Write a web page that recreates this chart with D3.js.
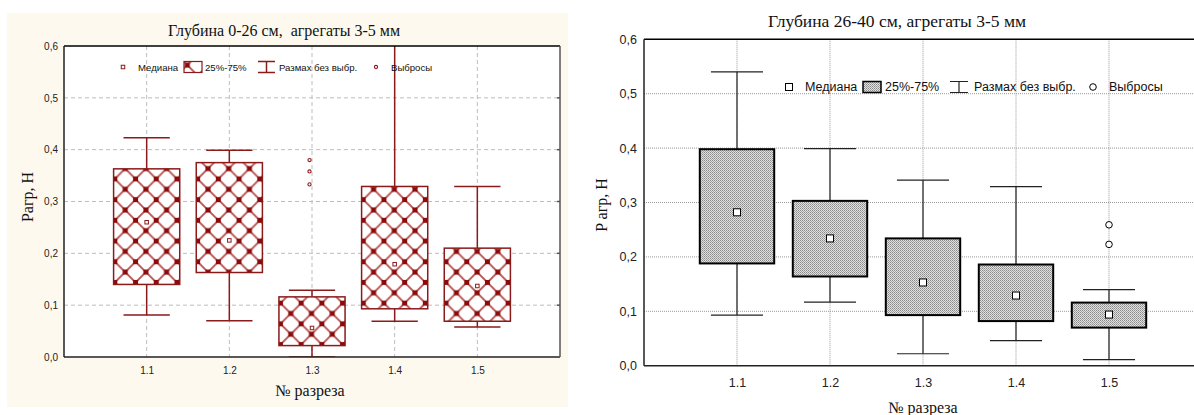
<!DOCTYPE html>
<html>
<head>
<meta charset="utf-8">
<script src="https://cdn.jsdelivr.net/npm/d3@7"></script>
<style>
  html, body { margin: 0; padding: 0; background: #ffffff; }
  svg { display: block; }
</style>
</head>
<body>
<svg id="chart" width="1194" height="415"></svg>
<script>
// Section numbers (x categories) and their positions on the numeric axis
const cuts = ["1.1", "1.2", "1.3", "1.4", "1.5"];
const cutPos = [1.1, 1.2, 1.3, 1.4, 1.5];
const yTicks = [0, 0.1, 0.2, 0.3, 0.4, 0.5, 0.6];

// Depth 0-26 cm, aggregates 3-5 mm
const topMedian = [0.260, 0.225, 0.056, 0.179, 0.137];
const topQ1 = [0.140, 0.163, 0.022, 0.093, 0.069];
const topQ3 = [0.363, 0.375, 0.116, 0.329, 0.210];
const topMin = [0.081, 0.070, 0.000, 0.069, 0.058];
const topMax = [0.423, 0.399, 0.129, 0.620, 0.329];
const topOutliers = [[], [], [0.380, 0.358, 0.333], [], []];

// Depth 26-40 cm, aggregates 3-5 mm
const subMedian = [0.282, 0.234, 0.153, 0.129, 0.094];
const subQ1 = [0.188, 0.164, 0.093, 0.082, 0.070];
const subQ3 = [0.398, 0.303, 0.234, 0.186, 0.116];
const subMin = [0.093, 0.117, 0.022, 0.046, 0.011];
const subMax = [0.540, 0.399, 0.341, 0.329, 0.140];
const subOutliers = [[], [], [], [], [0.259, 0.223]];

const legendLabels = ["Медиана", "25%-75%", "Размах без выбр.", "Выбросы"];

const svg = d3.select("#chart");
const defs = svg.append("defs");

// Red diamond lattice fill
const P = 20.7;
const lat = defs.append("pattern")
  .attr("id", "lattice").attr("patternUnits", "userSpaceOnUse")
  .attr("width", P).attr("height", P).attr("x", 1).attr("y", 3);
lat.append("rect").attr("width", P).attr("height", P).attr("fill", "#ffffff");
lat.append("path").attr("d", `M0,0L${P},${P}M${P},0L0,${P}`)
  .attr("stroke", "#b65252").attr("stroke-width", 1.9).attr("fill", "none");
[[0, 0], [P, 0], [0, P], [P, P], [P / 2, P / 2]].forEach(([cx, cy]) => {
  lat.append("rect").attr("x", cx - 2.5).attr("y", cy - 2.5).attr("width", 5).attr("height", 5)
    .attr("fill", "#8b0a0a");
});

// Fine grey stipple fill
const dot = defs.append("pattern")
  .attr("id", "stipple").attr("patternUnits", "userSpaceOnUse")
  .attr("width", 2).attr("height", 2);
dot.append("rect").attr("width", 2).attr("height", 2).attr("fill", "#e0e0e0");
dot.append("rect").attr("width", 1).attr("height", 1).attr("fill", "#8a8a8a");
dot.append("rect").attr("x", 1).attr("y", 1).attr("width", 1).attr("height", 1).attr("fill", "#a4a4a4");

const fmt = v => d3.format(".1f")(v).replace(".", ",");

function drawPanel(o) {
  const g = svg.append("g");
  const x = d3.scaleLinear().domain([1.0, 1.6]).range([o.left, o.right]);
  const y = d3.scaleLinear().domain([0, 0.6]).range([o.bottom, o.top]);
  const bw = (x(1.2) - x(1.1)) * 0.8;
  const cw = (x(1.2) - x(1.1)) * o.capFrac;

  if (o.bg) {
    g.append("rect").attr("x", o.bg[0]).attr("y", o.bg[1]).attr("width", o.bg[2]).attr("height", o.bg[3])
      .attr("fill", o.bgColor);
  }
  g.append("rect").attr("x", o.left).attr("y", o.top)
    .attr("width", Math.min(o.right, 1194) - o.left).attr("height", o.bottom - o.top).attr("fill", "#ffffff");

  const clipId = "clip-" + o.id;
  defs.append("clipPath").attr("id", clipId).append("rect")
    .attr("x", o.left).attr("y", o.top).attr("width", o.right - o.left).attr("height", o.bottom - o.top);

  // grid
  const grid = g.append("g");
  grid.selectAll("line.h").data(yTicks.slice(1, -1)).join("line")
    .attr("x1", o.left).attr("x2", o.right).attr("y1", d => y(d)).attr("y2", d => y(d))
    .attr("stroke", o.gridColor).attr("stroke-width", 1).attr("stroke-dasharray", o.gridDash);
  grid.selectAll("line.v").data(cutPos).join("line")
    .attr("x1", d => x(d)).attr("x2", d => x(d)).attr("y1", o.top).attr("y2", o.bottom)
    .attr("stroke", o.gridColor).attr("stroke-width", 1).attr("stroke-dasharray", o.gridDash);

  // boxes
  const marks = g.append("g").attr("clip-path", `url(#${clipId})`);
  cuts.forEach((c, i) => {
    const cx = x(cutPos[i]);
    // whiskers
    marks.append("line").attr("x1", cx).attr("x2", cx).attr("y1", y(o.max[i])).attr("y2", y(o.q3[i]))
      .attr("stroke", o.whiskerColor).attr("stroke-width", o.whiskerWidth);
    marks.append("line").attr("x1", cx).attr("x2", cx).attr("y1", y(o.q1[i])).attr("y2", y(o.min[i]))
      .attr("stroke", o.whiskerColor).attr("stroke-width", o.whiskerWidth);
    [o.max[i], o.min[i]].forEach(v => {
      marks.append("line").attr("x1", cx - cw / 2).attr("x2", cx + cw / 2).attr("y1", y(v)).attr("y2", y(v))
        .attr("stroke", o.whiskerColor).attr("stroke-width", o.whiskerWidth);
    });
    marks.append("rect").attr("x", cx - bw / 2).attr("y", y(o.q3[i]))
      .attr("width", bw).attr("height", y(o.q1[i]) - y(o.q3[i]))
      .attr("fill", `url(#${o.pattern})`).attr("stroke", o.boxStroke).attr("stroke-width", o.boxWidth);
    marks.append("rect").attr("x", cx - o.medSize / 2).attr("y", y(o.median[i]) - o.medSize / 2)
      .attr("width", o.medSize).attr("height", o.medSize)
      .attr("fill", "#ffffff").attr("stroke", o.medStroke).attr("stroke-width", 1);
    o.outliers[i].forEach(v => {
      marks.append("circle").attr("cx", cx - o.outShift).attr("cy", y(v)).attr("r", o.outR)
        .attr("fill", "#ffffff").attr("stroke", o.medStroke).attr("stroke-width", o.outW);
    });
  });

  // frame
  g.append("line").attr("x1", o.left).attr("x2", o.right).attr("y1", o.top).attr("y2", o.top)
    .attr("stroke", "#000").attr("stroke-width", 1.5);
  g.append("line").attr("x1", o.left).attr("x2", o.left).attr("y1", o.top).attr("y2", o.bottom)
    .attr("stroke", o.axisColor).attr("stroke-width", 1.5);
  g.append("line").attr("x1", o.left).attr("x2", o.right).attr("y1", o.bottom).attr("y2", o.bottom)
    .attr("stroke", o.axisColor).attr("stroke-width", 1.5);
  if (o.rightFrame) {
    g.append("line").attr("x1", o.right).attr("x2", o.right).attr("y1", o.top).attr("y2", o.bottom)
      .attr("stroke", "#555").attr("stroke-width", 1.5);
    g.selectAll("line.rt").data(yTicks.slice(1, -1)).join("line")
      .attr("x1", o.right - 3).attr("x2", o.right).attr("y1", d => y(d)).attr("y2", d => y(d))
      .attr("stroke", "#555").attr("stroke-width", 1.5);
  }

  // axes
  const ya = d3.axisLeft(y).tickValues(yTicks).tickFormat(fmt).tickSize(o.tickLen).tickPadding(o.tickPad);
  const yg = g.append("g").attr("transform", `translate(${o.left},0)`).call(ya);
  yg.select(".domain").remove();
  yg.selectAll("line").attr("stroke", o.axisColor);
  yg.selectAll("text").attr("font-family", "Liberation Sans, Arial, sans-serif")
    .attr("font-size", o.tickFont).attr("fill", "#222");

  const xa = d3.axisBottom(x).tickValues(cutPos).tickFormat((d, i) => cuts[i]).tickSize(0).tickPadding(o.xTickPad);
  const xg = g.append("g").attr("transform", `translate(0,${o.bottom})`).call(xa);
  xg.select(".domain").remove();
  xg.selectAll("text").attr("font-family", "Liberation Sans, Arial, sans-serif")
    .attr("font-size", o.tickFont).attr("fill", "#222");

  // titles
  g.append("text").attr("x", o.titleX).attr("y", o.titleY).attr("text-anchor", "middle")
    .attr("font-family", "Liberation Serif, Times New Roman, serif").attr("font-size", o.titleFont)
    .attr("fill", "#111").attr("xml:space", "preserve").style("white-space", "pre").text(o.title);
  g.append("text").attr("transform", `translate(${o.yLabelX},${o.yLabelY}) rotate(-90)`)
    .attr("text-anchor", "middle").attr("dominant-baseline", "central")
    .attr("font-family", "Liberation Serif, Times New Roman, serif").attr("font-size", o.labelFont)
    .attr("fill", "#111").text(o.yLabel);
  g.append("text").attr("x", o.xLabelX).attr("y", o.xLabelY).attr("text-anchor", "middle")
    .attr("font-family", "Liberation Serif, Times New Roman, serif").attr("font-size", o.labelFont)
    .attr("fill", "#111").text("№ разреза");

  // legend
  const L = o.legend;
  const lg = g.append("g");
  const tf = t => t.attr("font-family", "Liberation Sans, Arial, sans-serif").attr("font-size", L.font)
    .attr("fill", "#111").attr("dominant-baseline", "central");
  lg.append("rect").attr("x", L.med - o.medSize / 2).attr("y", L.y - o.medSize / 2)
    .attr("width", o.medSize).attr("height", o.medSize)
    .attr("fill", "#fff").attr("stroke", o.medStroke).attr("stroke-width", 1);
  tf(lg.append("text").attr("x", L.t[0]).attr("y", L.y).text(legendLabels[0]));
  lg.append("rect").attr("x", L.box[0]).attr("y", L.y - L.bh / 2).attr("width", L.box[1] - L.box[0]).attr("height", L.bh)
    .attr("fill", `url(#${o.pattern})`).attr("stroke", o.boxStroke).attr("stroke-width", o.legendBoxW);
  tf(lg.append("text").attr("x", L.t[1]).attr("y", L.y).text(legendLabels[1]));
  const wx0 = L.wh[0], wx1 = L.wh[1], wm = (wx0 + wx1) / 2;
  lg.append("path")
    .attr("d", `M${wx0},${L.y - L.bh / 2}H${wx1}M${wm},${L.y - L.bh / 2}V${L.y + L.bh / 2}M${wx0},${L.y + L.bh / 2}H${wx1}`)
    .attr("stroke", o.whiskerColor).attr("stroke-width", o.whiskerWidth).attr("fill", "none");
  tf(lg.append("text").attr("x", L.t[2]).attr("y", L.y).text(legendLabels[2]));
  lg.append("circle").attr("cx", L.out).attr("cy", L.y).attr("r", o.outR)
    .attr("fill", "#fff").attr("stroke", o.medStroke).attr("stroke-width", o.outW);
  tf(lg.append("text").attr("x", L.t[3]).attr("y", L.y).text(legendLabels[3]));
}

drawPanel({
  id: "top", left: 64, right: 560, top: 46, bottom: 357,
  bg: [7, 13, 561, 394], bgColor: "#fdf9ee", rightFrame: true,
  median: topMedian, q1: topQ1, q3: topQ3, min: topMin, max: topMax, outliers: topOutliers,
  pattern: "lattice", boxStroke: "#8b1a1a", boxWidth: 1.5,
  whiskerColor: "#8b1a1a", whiskerWidth: 1.5, capFrac: 0.56,
  medStroke: "#8b1a1a", medSize: 3.5, outR: 1.6, outW: 1.1, outShift: 2.5,
  gridColor: "#bdbdbd", gridDash: "4,3", axisColor: "#222",
  tickLen: 0, tickPad: 6, xTickPad: 10, tickFont: 10,
  title: "Глубина 0-26 см,  агрегаты 3-5 мм", titleX: 284, titleY: 36, titleFont: 16,
  yLabel: "Pагр, Н", yLabelX: 27, yLabelY: 197, xLabelX: 310, xLabelY: 396, labelFont: 16,
  legend: { y: 67, font: 9.6, med: 123, t: [138, 205, 279, 391], box: [184, 202], bh: 11, wh: [258, 275], out: 376 },
  legendBoxW: 1.2
});

drawPanel({
  id: "sub", left: 644, right: 1202, top: 39.3, bottom: 365.7,
  bg: null, rightFrame: false,
  median: subMedian, q1: subQ1, q3: subQ3, min: subMin, max: subMax, outliers: subOutliers,
  pattern: "stipple", boxStroke: "#000", boxWidth: 2,
  whiskerColor: "#222", whiskerWidth: 1.2, capFrac: 0.56,
  medStroke: "#000", medSize: 7, outR: 3.3, outW: 1, outShift: 0,
  gridColor: "#9a9a9a", gridDash: "1,1", axisColor: "#222",
  tickLen: 0, tickPad: 7, xTickPad: 12, tickFont: 12.5,
  title: "Глубина 26-40 см, агрегаты 3-5 мм", titleX: 897, titleY: 27, titleFont: 17.5,
  yLabel: "P агр, Н", yLabelX: 601, yLabelY: 205, xLabelX: 923, xLabelY: 413, labelFont: 16,
  legend: { y: 87, font: 12.5, med: 789, t: [805, 885, 974, 1109], box: [863, 881], bh: 11, wh: [950, 968], out: 1093 },
  legendBoxW: 1.5
});
</script>
</body>
</html>
